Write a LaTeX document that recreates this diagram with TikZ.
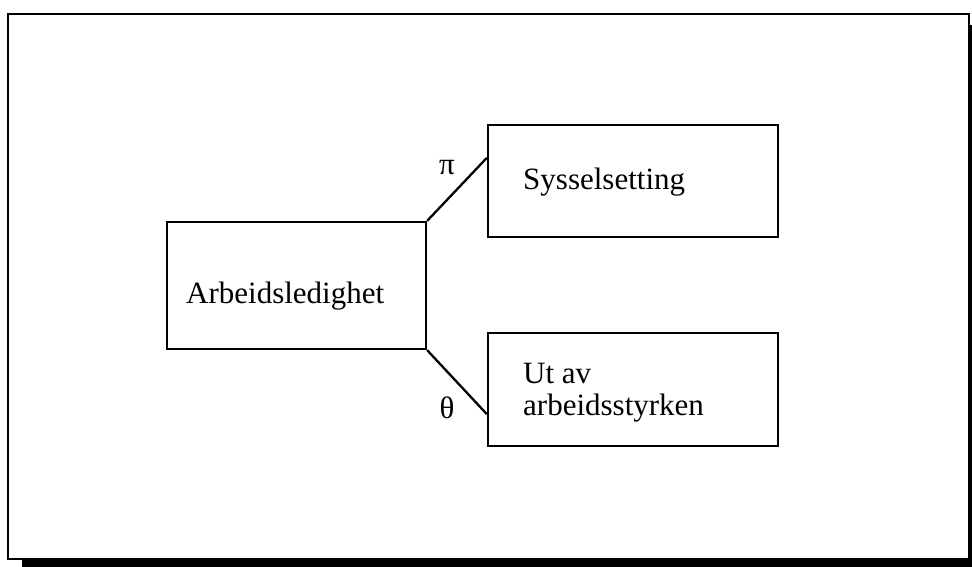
\documentclass[tikz,border=0pt]{standalone}
\usepackage{fontspec}
\setmainfont{Liberation Serif}
\begin{document}
\begin{tikzpicture}[x=1pt,y=1pt,
  boxnode/.style={draw, line width=2.3pt, inner sep=0pt, fill=white},
  txt/.style={anchor=base west, inner sep=0pt, font=\fontsize{31}{32}\selectfont},
  conn/.style={line width=2.3pt}]
\useasboundingbox (0,0) rectangle (972,566);
\clip (0,0) rectangle (972,566);
% shadow and frame
\fill[black] (22,-10) rectangle (985,541);
\draw[line width=1.5pt, fill=white] (8,7) rectangle (969,552);
% boxes
\node[boxnode, minimum width=259pt, minimum height=127pt] (A) at (296.5,280.5) {};
\node[boxnode, minimum width=290pt, minimum height=112pt] (S) at (633,385) {};
\node[boxnode, minimum width=290pt, minimum height=113pt] (U) at (633,176.5) {};
% texts
\node[txt] (tA) at (186,263) {Arbeidsledighet};
\node[txt] (tS) at (523,376) {Sysselsetting};
\node[txt] (tU1) at (523,183) {Ut av};
\node[txt] (tU2) at (523,151) {arbeidsstyrken};
% connectors
\draw[conn] (A.north east) -- ([yshift=-34pt]S.north west);
\draw[conn] (A.south east) -- ([yshift=33pt]U.south west);
% labels
\node[font=\fontsize{31}{32}\selectfont, inner sep=0pt] (pi) at (447,398) {π};
\node[font=\fontsize{31}{32}\selectfont, inner sep=0pt] (th) at (447,158) {θ};
\end{tikzpicture}
\end{document}
